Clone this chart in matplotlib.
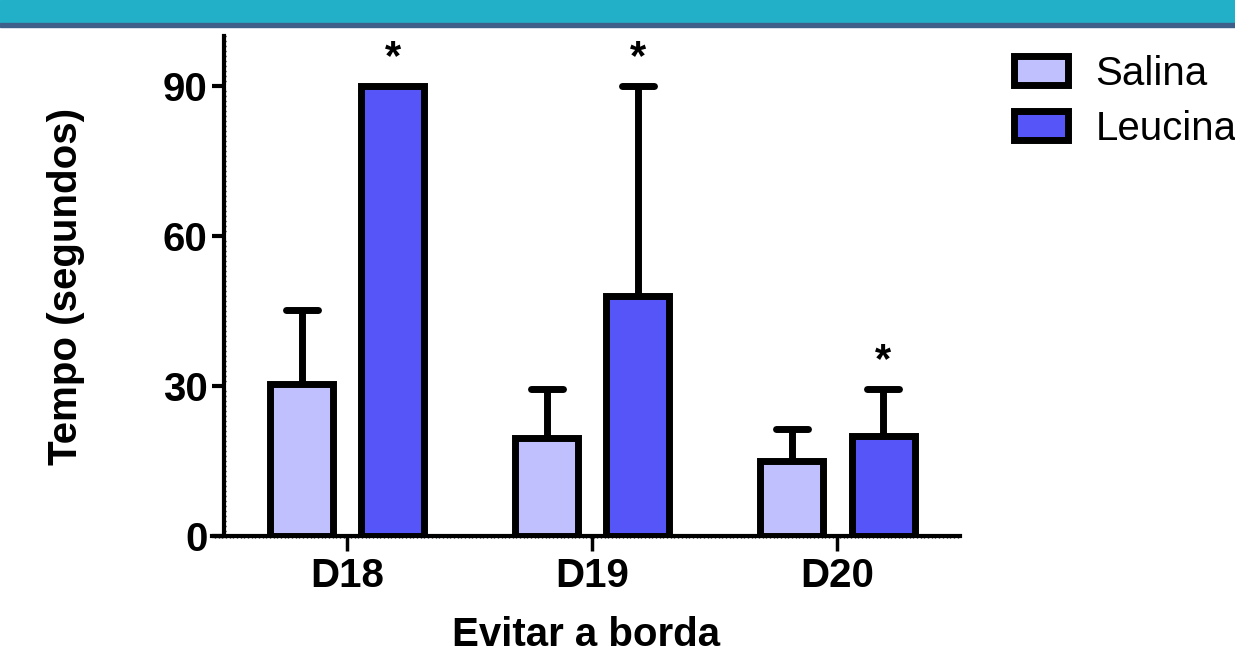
import numpy as np
import matplotlib
matplotlib.use("Agg")
import matplotlib.pyplot as plt
from matplotlib.ticker import MultipleLocator
from matplotlib.patches import Rectangle

plt.rcParams['font.family'] = ['Liberation Sans', 'DejaVu Sans']

# data: time (s) avoiding the border, mean and upper error per day
days = ["D18", "D19", "D20"]
groups = ["Salina", "Leucina"]
salina = [30.5, 19.6, 15.0]
salina_err = [14.7, 9.8, 6.4]
leucina = [90.0, 48.0, 20.0]
leucina_err = [0.0, 42.0, 9.4]
signif = [True, True, True]   # asterisk over leucina bars

colors = ["#C0C0FF", "#5555F8"]

fig = plt.figure(figsize=(12.35, 6.54), dpi=100)
fig.patch.set_facecolor("white")

# header band
fig.add_artist(Rectangle((0, 1 - 23/654), 1, 23/654, transform=fig.transFigure,
                         color="#22B0C9", zorder=0))
fig.add_artist(Rectangle((0, 1 - 27/654), 1, 4/654, transform=fig.transFigure,
                         color="#3E5F8A", zorder=0))

ax = fig.add_axes([212/1235, 118/654, 748/1235, 500/654])
ax.patch.set_alpha(0)

x = np.arange(len(days))
w = 0.257
off = 0.186
lw = 5

ax.bar(x - off, salina, w, color=colors[0], edgecolor="black", linewidth=lw,
       label=groups[0], zorder=3)
ax.bar(x + off, leucina, w, color=colors[1], edgecolor="black", linewidth=lw,
       label=groups[1], zorder=3)

for xs, vals, errs in [(x - off, salina, salina_err), (x + off, leucina, leucina_err)]:
    for xi, v, e in zip(xs, vals, errs):
        if e <= 0:
            continue
        ax.plot([xi, xi], [v, v + e], color="black", lw=lw, zorder=2,
                solid_capstyle="butt")
        ax.plot([xi - 0.065, xi + 0.065], [v + e, v + e], color="black", lw=lw,
                zorder=2, solid_capstyle="round")

for xi, v, e, s in zip(x + off, leucina, leucina_err, signif):
    if s:
        ax.text(xi, v + e + 5.5, "*", ha="center", va="center", fontsize=30,
                fontweight="bold")

ax.set_xlim(-0.552, 2.5)
ax.set_ylim(0, 100)
ax.spines["top"].set_visible(False)
ax.spines["right"].set_visible(False)
ax.spines["left"].set_position(("data", -0.503))
ax.spines["left"].set_linewidth(3)
ax.spines["bottom"].set_linewidth(3)

ax.set_yticks([0, 30, 60, 90])
ax.set_xticks(x)
ax.set_xticklabels(days)
ax.yaxis.set_minor_locator(MultipleLocator(1))
ax.xaxis.set_minor_locator(MultipleLocator(0.015))
ax.tick_params(axis="y", which="major", length=9, width=3, labelsize=29, pad=3)
ax.tick_params(axis="x", which="major", length=11, width=2.5, labelsize=29, pad=4)
ax.tick_params(which="minor", length=3.5, width=1, direction="inout")
for lab in ax.get_xticklabels() + ax.get_yticklabels():
    lab.set_fontweight("bold")

ax.set_xlabel("Evitar a borda", fontsize=29, fontweight="bold", labelpad=15)
ax.set_ylabel("Tempo (segundos)", fontsize=29, fontweight="bold", labelpad=56)

leg = ax.legend(loc="upper left", bbox_to_anchor=(1.05, 0.995), frameon=False,
                fontsize=29, handlelength=1.35, handleheight=0.72,
                handletextpad=0.68, labelspacing=0.42, borderaxespad=0)

fig.savefig("out.png", dpi=100)
